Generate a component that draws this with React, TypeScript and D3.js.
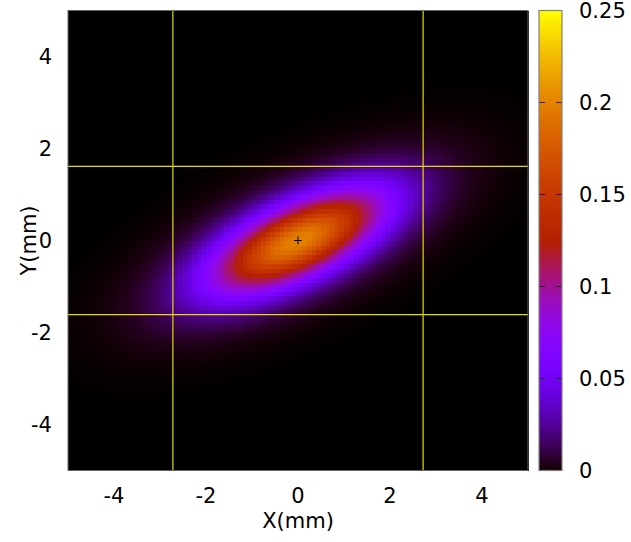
import React from "react";
import * as d3 from "d3";

// ---- data ----
const X_DOMAIN: [number, number] = [-5, 5];
const Y_DOMAIN: [number, number] = [-5, 5];
const X_TICKS = [-4, -2, 0, 2, 4];
const Y_TICKS = [-4, -2, 0, 2, 4];
const CB_DOMAIN: [number, number] = [0, 0.25];
const CB_TICKS = [0, 0.05, 0.1, 0.15, 0.2, 0.25];
const CB_LABELS = ["0", "0.05", "0.1", "0.15", "0.2", "0.25"];
// beam (2D gaussian) parameters
const PEAK = [0.2];
const SIGMA = [1.36, 0.805]; // sigma x, sigma y (mm)
const RHO = [0.65];
const CENTER = [0, 0];
const GRID_N = [100];
// marker lines (mm)
const V_LINES = [-2.72, 2.72];
const H_LINES = [-1.61, 1.61];

const W = 631;
const H = 542;
const PL = 68, PR = 528, PT = 10.5, PB = 470.5;
const CBL = 539, CBR = 562;
const FONT = "'DejaVu Sans', sans-serif";
const FS = 21;

function palette(t: number): string {
  t = Math.max(0, Math.min(1, t));
  const r = Math.sqrt(t);
  const g = t * t * t;
  const b = Math.max(0, Math.sin(2 * Math.PI * t));
  return d3.rgb(r * 255, g * 255, Math.min(1, b) * 255).formatHex();
}

function gauss(x: number, y: number): number {
  const [sx, sy] = SIGMA;
  const r = RHO[0];
  const dx = (x - CENTER[0]) / sx;
  const dy = (y - CENTER[1]) / sy;
  const q = (dx * dx - 2 * r * dx * dy + dy * dy) / (1 - r * r);
  return PEAK[0] * Math.exp(-q / 2);
}

export default function App() {
  const x = d3.scaleLinear().domain(X_DOMAIN).range([PL, PR]);
  const y = d3.scaleLinear().domain(Y_DOMAIN).range([PB, PT]);
  const cb = d3.scaleLinear().domain(CB_DOMAIN).range([PB, PT]);
  const color = (v: number) => palette((v - CB_DOMAIN[0]) / (CB_DOMAIN[1] - CB_DOMAIN[0]));

  const n = GRID_N[0];
  const dxs = (X_DOMAIN[1] - X_DOMAIN[0]) / n;
  const dys = (Y_DOMAIN[1] - Y_DOMAIN[0]) / n;
  const cells: { x0: number; y0: number; v: number }[] = [];
  d3.range(n).forEach((i) => {
    d3.range(n).forEach((j) => {
      const x0 = X_DOMAIN[0] + i * dxs;
      const y0 = Y_DOMAIN[0] + j * dys;
      cells.push({ x0, y0, v: gauss(x0 + dxs / 2, y0 + dys / 2) });
    });
  });

  const cbSteps = d3.range(0, 230);
  const cbStep = (CB_DOMAIN[1] - CB_DOMAIN[0]) / cbSteps.length;

  return (
    <svg width={W} height={H} style={{ position: "absolute", left: 0, top: 0, background: "#fff" }}
      fontFamily={FONT} fontSize={FS}>
      <g shapeRendering="crispEdges">
        {cells.map((c, k) => (
          <rect key={k}
            x={x(c.x0)} y={y(c.y0 + dys)}
            width={x(c.x0 + dxs) - x(c.x0) + 0.6}
            height={y(c.y0) - y(c.y0 + dys) + 0.6}
            fill={color(c.v)} />
        ))}
      </g>
      {/* marker lines */}
      {V_LINES.map((v, i) => (
        <line key={"v" + i} x1={x(v)} x2={x(v)} y1={PT} y2={PB} stroke="#dede00" strokeWidth={1.2} />
      ))}
      {H_LINES.map((v, i) => (
        <line key={"h" + i} x1={PL} x2={PR} y1={y(v)} y2={y(v)} stroke="#dede00" strokeWidth={1.2} />
      ))}
      {/* center cross */}
      <g stroke="#000" strokeWidth={1}>
        <line x1={x(CENTER[0]) - 4} x2={x(CENTER[0]) + 4} y1={y(CENTER[1])} y2={y(CENTER[1])} />
        <line x1={x(CENTER[0])} x2={x(CENTER[0])} y1={y(CENTER[1]) - 4} y2={y(CENTER[1]) + 4} />
      </g>
      {/* axis ticks (inner) */}
      <g stroke="#000" strokeWidth={1}>
        {X_TICKS.map((t) => (
          <g key={"xt" + t}>
            <line x1={x(t)} x2={x(t)} y1={PB} y2={PB - 9} />
            <line x1={x(t)} x2={x(t)} y1={PT} y2={PT + 9} />
          </g>
        ))}
        {Y_TICKS.map((t) => (
          <g key={"yt" + t}>
            <line x1={PL} x2={PL + 9} y1={y(t)} y2={y(t)} />
            <line x1={PR} x2={PR - 9} y1={y(t)} y2={y(t)} />
          </g>
        ))}
      </g>
      <rect x={PL} y={PT} width={PR - PL} height={PB - PT} fill="none" stroke="#666" strokeWidth={1} />
      {/* tick labels */}
      {X_TICKS.map((t) => (
        <text key={"xl" + t} x={x(t)} y={503} textAnchor="middle" fill="#000">{String(t)}</text>
      ))}
      {Y_TICKS.map((t) => (
        <text key={"yl" + t} x={52} y={y(t) + 7.6} textAnchor="end" fill="#000">{String(t)}</text>
      ))}
      <text x={(PL + PR) / 2} y={528} textAnchor="middle" fill="#000">X(mm)</text>
      <text transform={`translate(36,${(PT + PB) / 2}) rotate(-90)`} textAnchor="middle" fill="#000">Y(mm)</text>
      {/* colorbar */}
      <g shapeRendering="crispEdges">
        {cbSteps.map((i) => {
          const v0 = CB_DOMAIN[0] + i * cbStep;
          return (
            <rect key={"cb" + i} x={CBL} y={cb(v0 + cbStep)} width={CBR - CBL}
              height={cb(v0) - cb(v0 + cbStep) + 0.5} fill={color(v0 + cbStep / 2)} />
          );
        })}
      </g>
      <g stroke="#000" strokeWidth={1} opacity={0.7}>
        {CB_TICKS.map((t) => (
          <g key={"cbt" + t}>
            <line x1={CBL} x2={CBL + 6} y1={cb(t)} y2={cb(t)} />
            <line x1={CBR - 6} x2={CBR} y1={cb(t)} y2={cb(t)} />
          </g>
        ))}
      </g>
      <rect x={CBL} y={PT} width={CBR - CBL} height={PB - PT} fill="none" stroke="#808080" strokeWidth={1.2} />
      {CB_TICKS.map((t, i) => (
        <text key={"cbl" + t} x={579} y={cb(t) + 7.6} textAnchor="start" fill="#000">{CB_LABELS[i]}</text>
      ))}
    </svg>
  );
}
